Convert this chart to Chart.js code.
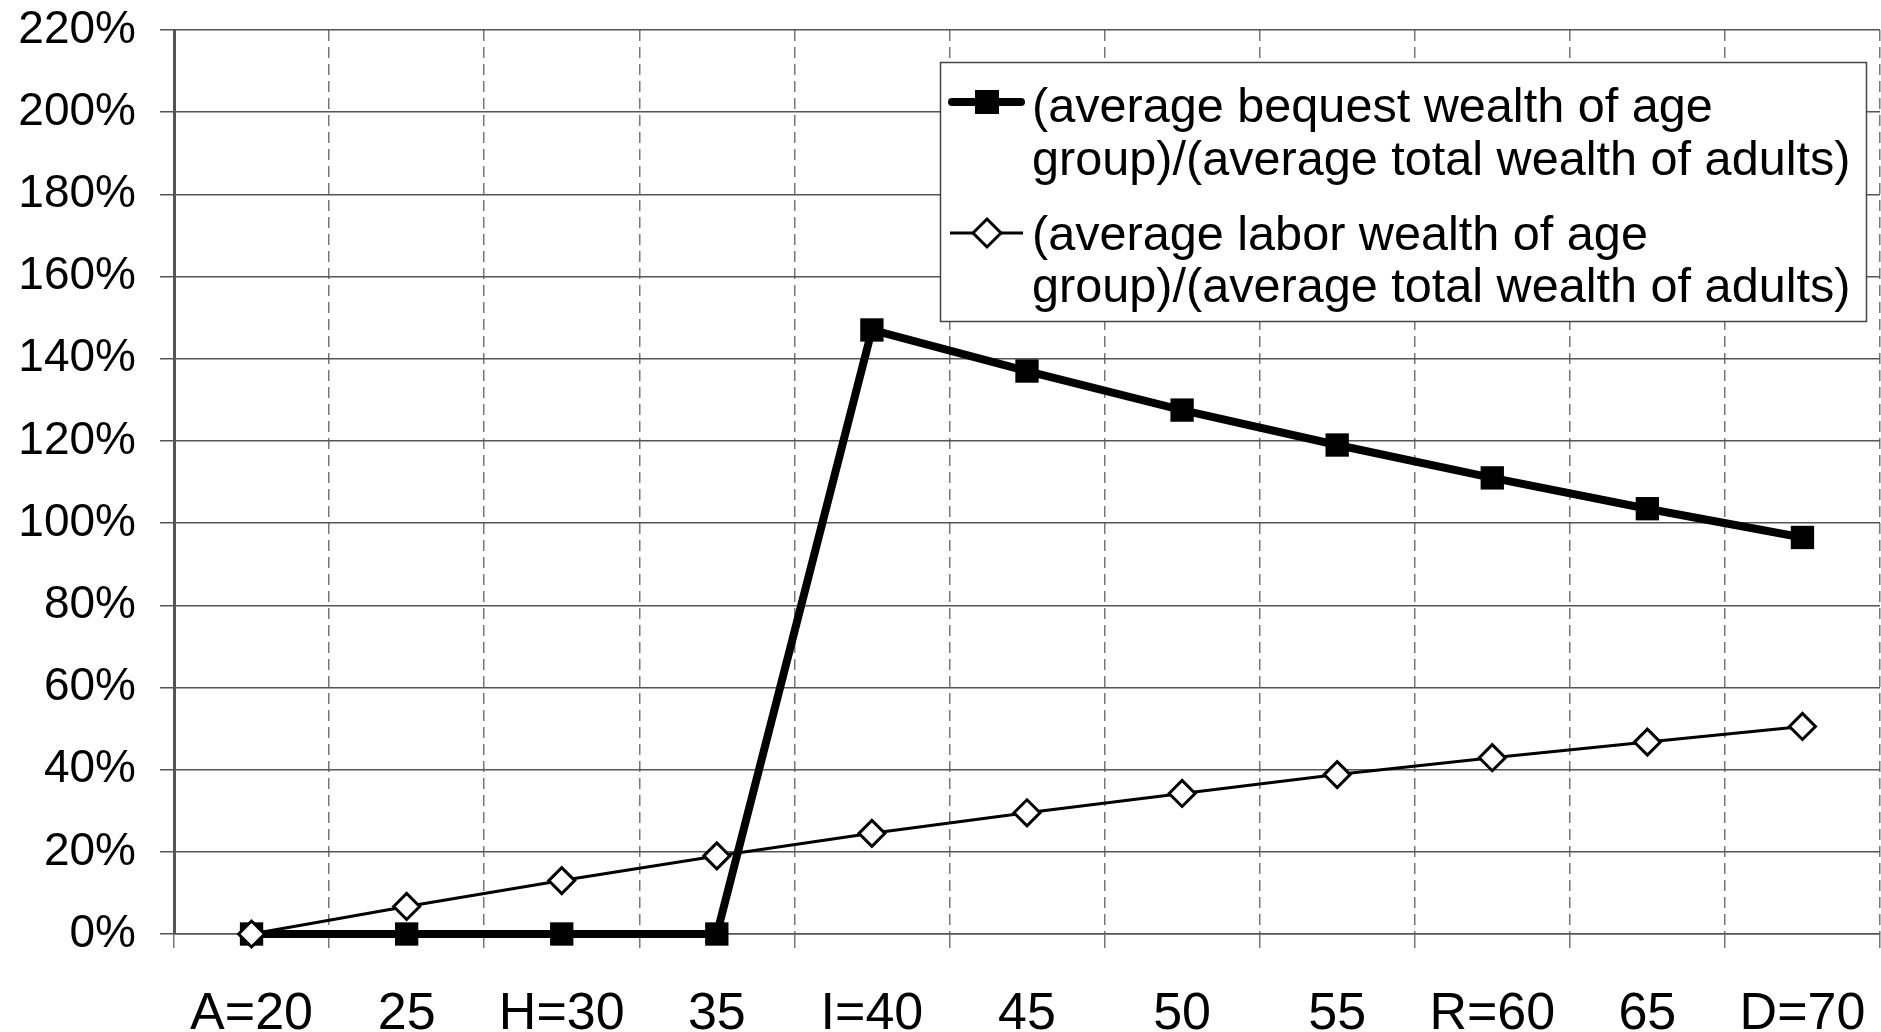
<!DOCTYPE html>
<html>
<head>
<meta charset="utf-8">
<script src="https://cdn.jsdelivr.net/npm/chart.js@4/dist/chart.umd.min.js"></script>
<style>
  html, body { margin: 0; padding: 0; background: #fff; overflow: hidden; }
  #wrap { width: 1881px; height: 1032px; position: relative; }
</style>
</head>
<body>
<div id="wrap"><canvas id="wealthChart"></canvas></div>
<script>
// ── Datos ───────────────────────────────────────────────────────────
const ageLabels   = ['A=20', '25', 'H=30', '35', 'I=40', '45', '50', '55', 'R=60', '65', 'D=70'];
const bequestData = [0, 0, 0, 0, 147, 137, 127.5, 119, 111, 103.5, 96.5];
const laborData   = [0, 6.7, 13, 19, 24.5, 29.5, 34.2, 38.8, 42.9, 46.7, 50.5];
const bequestName = ['(average bequest wealth of age', 'group)/(average total wealth of adults)'];
const laborName   = ['(average labor wealth of age', 'group)/(average total wealth of adults)'];
const yMin = 0, yMax = 220, yStep = 20;

const FONT = '"Liberation Sans", Arial, sans-serif';

// ── Leyenda dibujada a mano (caja con dos entradas de dos líneas) ───
const boxLegend = {
    id: 'boxLegend',
    afterDatasetsDraw(chart) {
        const ctx = chart.ctx;
        ctx.save();
        ctx.fillStyle = '#fff';
        ctx.fillRect(940, 62, 927, 260);
        ctx.strokeStyle = '#444';
        ctx.lineWidth = 1.5;
        ctx.strokeRect(940.5, 62.5, 926, 259);

        // muestra serie 1: línea gruesa + cuadrado negro
        ctx.strokeStyle = '#000';
        ctx.lineCap = 'round';
        ctx.lineWidth = 8;
        ctx.beginPath(); ctx.moveTo(952, 102); ctx.lineTo(1021, 102); ctx.stroke();
        ctx.fillStyle = '#000';
        ctx.fillRect(975, 90, 24, 24);

        // muestra serie 2: línea fina + rombo blanco
        ctx.lineCap = 'butt';
        ctx.lineWidth = 3;
        ctx.beginPath(); ctx.moveTo(950, 233); ctx.lineTo(1023, 233); ctx.stroke();
        ctx.beginPath();
        ctx.moveTo(973, 233); ctx.lineTo(987, 219); ctx.lineTo(1001, 233); ctx.lineTo(987, 247);
        ctx.closePath();
        ctx.fillStyle = '#fff';
        ctx.fill();
        ctx.stroke();

        ctx.fillStyle = '#000';
        ctx.font = '48.6px ' + FONT;
        ctx.textBaseline = 'alphabetic';
        ctx.textAlign = 'left';
        ctx.fillText(bequestName[0], 1032, 122);
        ctx.fillText(bequestName[1], 1032, 175);
        ctx.fillText(laborName[0], 1032, 250);
        ctx.fillText(laborName[1], 1032, 302);
        ctx.restore();
    }
};

new Chart(document.getElementById('wealthChart'), {
    type: 'line',
    data: {
        labels: ageLabels,
        datasets: [
            {
                label: bequestName.join(' '),
                data: bequestData,
                borderColor: '#000',
                backgroundColor: '#000',
                borderWidth: 8,
                pointStyle: 'rect',
                pointRadius: 16.5,
                pointBorderWidth: 0,
                pointBackgroundColor: '#000',
                tension: 0,
                clip: false,
                order: 1
            },
            {
                label: laborName.join(' '),
                data: laborData,
                borderColor: '#000',
                borderWidth: 3,
                pointStyle: 'rectRot',
                pointRadius: 13,
                pointBorderWidth: 3,
                pointBorderColor: '#000',
                pointBackgroundColor: '#fff',
                tension: 0,
                clip: false,
                order: 0
            }
        ]
    },
    options: {
        responsive: true,
        maintainAspectRatio: false,
        animation: false,
        // sin autoPadding: si no, el tamaño de los puntos añade margen a la derecha
        layout: { autoPadding: false, padding: { top: 30, right: 1, left: 0, bottom: 0 } },
        plugins: {
            legend: { display: false },
            tooltip: { enabled: false }
        },
        scales: {
            x: {
                offset: true,
                grid: {
                    offset: true,
                    color: '#777',
                    lineWidth: 1.5,
                    tickLength: 14
                },
                border: { display: true, color: '#555', width: 1.5, dash: [11, 6] },
                ticks: {
                    color: '#000',
                    padding: 0,
                    maxRotation: 0,
                    autoSkip: false,
                    // el lineHeight grande baja las etiquetas sin añadir margen lateral
                    font: { family: FONT, size: 52, lineHeight: 2.58 }
                },
                afterFit(scale) {
                    scale.height = 98;
                    scale.paddingLeft = 0;
                    scale.paddingRight = 0;
                }
            },
            y: {
                min: yMin, max: yMax,
                grid: { color: '#555', lineWidth: 1.5, tickLength: 14 },
                border: { display: true, color: '#555', width: 3 },
                ticks: {
                    stepSize: yStep,
                    color: '#000',
                    padding: 24,
                    font: { family: FONT, size: 46, lineHeight: 0.2 },
                    callback: (v) => v + '%'
                },
                afterFit(scale) {
                    scale.width = 174;
                    scale.paddingTop = 0;
                    scale.paddingBottom = 0;
                }
            }
        }
    },
    plugins: [boxLegend]
});
</script>
</body>
</html>
